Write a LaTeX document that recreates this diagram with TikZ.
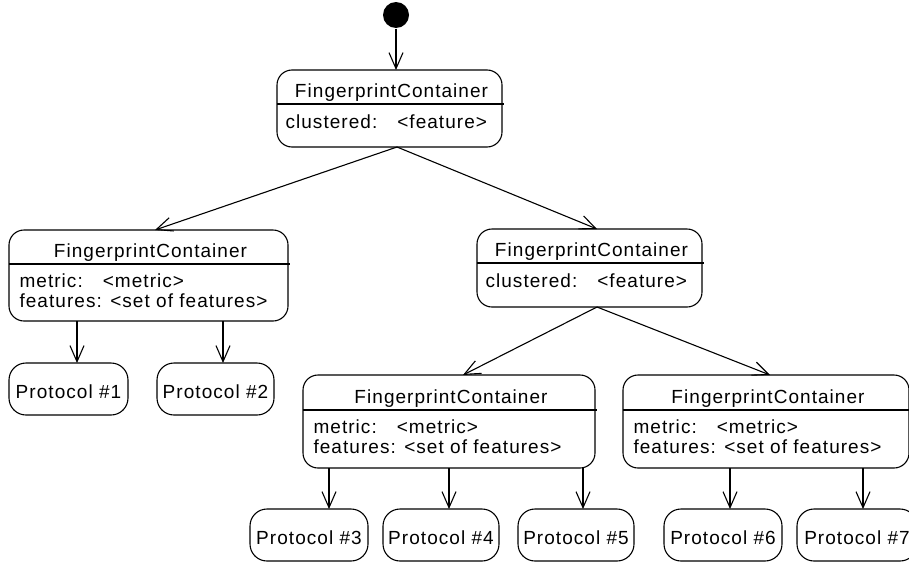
\documentclass[tikz,border=0pt]{standalone}
\usepackage{fontspec}
\setmainfont{Liberation Sans}[LetterSpace=5.5]
\usetikzlibrary{arrows.meta}
\newcommand{\gap}{\hspace{20pt}}
\begin{document}
\begin{tikzpicture}[x=1pt,y=-1pt,
  font=\fontsize{19}{22}\selectfont,
  line width=1.1pt,
  box/.style={draw, rounded corners=15pt, inner sep=0pt, outer sep=0pt},
  proto/.style={draw, rounded corners=17pt, minimum height=52pt, inner sep=0pt,
    outer sep=0pt, text height=19pt, text depth=0pt},
  arr/.style={-{Straight Barb[length=16pt,width=14pt,line width=1.1pt]}},
  title/.style={anchor=base, inner sep=0pt},
  field/.style={anchor=base west, inner sep=0pt}]
\useasboundingbox (0,0) rectangle (909,562);

% initial state
\node[circle, fill=black, minimum size=26pt, inner sep=0pt] (start) at (396,15) {};

% root container
\node[box, minimum width=225pt, minimum height=77pt] (root) at (389.5,108.5) {};
\draw ([yshift=-34pt]root.north west) -- ([xshift=2pt,yshift=-34pt]root.north east);
\node[title] (rootT) at ([xshift=2pt,yshift=-27pt]root.north) {FingerprintContainer};
\node[field] (rootA) at ([xshift=8pt,yshift=-58pt]root.north west) {clustered:\gap<feature>};

% left container
\node[box, minimum width=279pt, minimum height=91pt] (left) at (148.5,275.5) {};
\draw ([yshift=-34pt]left.north west) -- ([xshift=2pt,yshift=-34pt]left.north east);
\node[title] (leftT) at ([xshift=2pt,yshift=-27pt]left.north) {FingerprintContainer};
\node[field] (leftA) at ([xshift=10pt,yshift=-57pt]left.north west) {metric:\gap<metric>};
\node[field] (leftB) at ([xshift=10pt,yshift=-77pt]left.north west) {features: <set of features>};

% right container
\node[box, minimum width=225pt, minimum height=78pt] (mid) at (589.5,268) {};
\draw ([yshift=-34pt]mid.north west) -- ([xshift=2pt,yshift=-34pt]mid.north east);
\node[title] (midT) at ([xshift=2pt,yshift=-27pt]mid.north) {FingerprintContainer};
\node[field] (midA) at ([xshift=8pt,yshift=-58pt]mid.north west) {clustered:\gap<feature>};

% lower containers
\node[box, minimum width=292pt, minimum height=93pt] (low1) at (449,421.5) {};
\draw ([yshift=-35pt]low1.north west) -- ([xshift=2pt,yshift=-35pt]low1.north east);
\node[title] (low1T) at ([xshift=2pt,yshift=-28pt]low1.north) {FingerprintContainer};
\node[field] (low1A) at ([xshift=10pt,yshift=-58pt]low1.north west) {metric:\gap<metric>};
\node[field] (low1B) at ([xshift=10pt,yshift=-78pt]low1.north west) {features: <set of features>};

\node[box, minimum width=286pt, minimum height=93pt] (low2) at (766,421.5) {};
\draw ([yshift=-35pt]low2.north west) -- ([xshift=2pt,yshift=-35pt]low2.north east);
\node[title] (low2T) at ([xshift=2pt,yshift=-28pt]low2.north) {FingerprintContainer};
\node[field] (low2A) at ([xshift=10pt,yshift=-58pt]low2.north west) {metric:\gap<metric>};
\node[field] (low2B) at ([xshift=10pt,yshift=-78pt]low2.north west) {features: <set of features>};

% protocols
\node[proto, minimum width=119pt] (p1) at (68.5,389) {Protocol \#1};
\node[proto, minimum width=117pt] (p2) at (215.5,389) {Protocol \#2};
\node[proto, minimum width=118pt] (p3) at (309,535) {Protocol \#3};
\node[proto, minimum width=116pt] (p4) at (441,535) {Protocol \#4};
\node[proto, minimum width=116pt] (p5) at (576,535) {Protocol \#5};
\node[proto, minimum width=118pt] (p6) at (723,535) {Protocol \#6};
\node[proto, minimum width=120pt] (p7) at (857,535) {Protocol \#7};

% connector end points
\coordinate (rootOut) at ([xshift=7.5pt]root.south);
\coordinate (leftIn) at ([xshift=6.5pt]left.north);
\coordinate (midIn) at ([xshift=7.5pt]mid.north);
\coordinate (midOut) at ([xshift=7.5pt]mid.south);
\coordinate (low1In) at ([xshift=14pt]low1.north);
\coordinate (low2In) at ([xshift=4pt]low2.north);
\coordinate (p1In) at ([xshift=8.5pt]p1.north);
\coordinate (p2In) at ([xshift=7.5pt]p2.north);
\coordinate (p3In) at ([xshift=20pt]p3.north);
\coordinate (p4In) at ([xshift=8pt]p4.north);
\coordinate (p5In) at ([xshift=7pt]p5.north);
\coordinate (p6In) at ([xshift=7pt]p6.north);
\coordinate (p7In) at ([xshift=6pt]p7.north);

% transitions
\draw[arr] (start) -- (start |- root.north);
\draw[arr] (rootOut) -- (leftIn);
\draw[arr] (rootOut) -- (midIn);
\draw[arr] (midOut) -- (low1In);
\draw[arr] (midOut) -- (low2In);
\draw[arr] (p1In |- left.south) -- (p1In);
\draw[arr] (p2In |- left.south) -- (p2In);
\draw[arr] (p3In |- low1.south) -- (p3In);
\draw[arr] (p4In |- low1.south) -- (p4In);
\draw[arr] (p5In |- low1.south) -- (p5In);
\draw[arr] (p6In |- low2.south) -- (p6In);
\draw[arr] (p7In |- low2.south) -- (p7In);
\end{tikzpicture}
\end{document}
